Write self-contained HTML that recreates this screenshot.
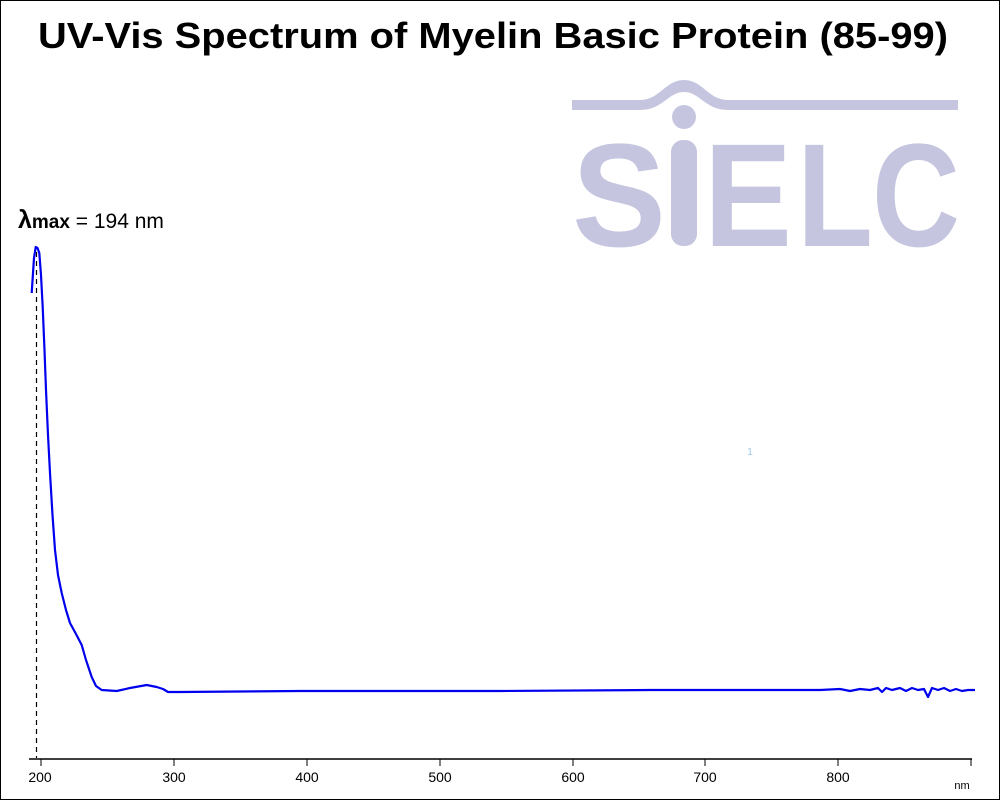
<!DOCTYPE html>
<html><head><style>
body{margin:0;background:#fff}
.w{position:relative;width:998px;height:798px;border:1px solid #000;overflow:hidden;font-family:"Liberation Sans",sans-serif}
</style></head><body><div class="w">
<svg width="998" height="798" viewBox="1 1 998 798" xmlns="http://www.w3.org/2000/svg" style="position:absolute;left:0;top:0">
<text x="493" y="48" text-anchor="middle" font-size="36" font-weight="bold" font-family="Liberation Sans" textLength="910" lengthAdjust="spacingAndGlyphs">UV-Vis Spectrum of Myelin Basic Protein (85-99)</text>
<g fill="#c5c5e0" stroke="none" font-size="147" font-weight="bold" font-family="Liberation Sans">
<path d="M572 100 L640 100 C660 100 665 80 684 80 C703 80 708 100 728 100 L958 100 L958 110 L728 110 C705 110 700 92 684 92 C668 92 663 110 640 110 L572 110 Z"/>
<circle cx="684" cy="117" r="12"/>
<text x="572" y="246" textLength="94" lengthAdjust="spacingAndGlyphs">S</text>
<rect x="671" y="140" width="26" height="106" rx="12"/>
<text x="704" y="246" textLength="88" lengthAdjust="spacingAndGlyphs">E</text>
<text x="797" y="246" textLength="76" lengthAdjust="spacingAndGlyphs">L</text>
<text x="872" y="246" textLength="88" lengthAdjust="spacingAndGlyphs">C</text>
</g>
<text x="18" y="228" font-size="20" font-family="Liberation Sans"><tspan font-weight="bold" font-size="25">λ</tspan><tspan font-weight="bold" font-size="19">max</tspan><tspan font-size="21"> = 194 nm</tspan></text>
<text x="750" y="455" font-size="10" fill="#9cc8f0" text-anchor="middle">1</text>
<line x1="36.5" y1="252" x2="36.5" y2="758" stroke="#000" stroke-dasharray="5,4" stroke-width="1.2"/>
<line x1="29" y1="759" x2="972" y2="759" stroke="#000" stroke-width="1.5"/>
<g stroke="#000" stroke-width="1">
<line x1="41" y1="759" x2="41" y2="766"/><line x1="174" y1="759" x2="174" y2="766"/><line x1="307" y1="759" x2="307" y2="766"/><line x1="440" y1="759" x2="440" y2="766"/><line x1="573" y1="759" x2="573" y2="766"/><line x1="705" y1="759" x2="705" y2="766"/><line x1="838" y1="759" x2="838" y2="766"/><line x1="971" y1="759" x2="971" y2="766"/>
</g>
<g font-size="14" text-anchor="middle" font-family="Liberation Sans">
<text x="40" y="782">200</text><text x="174" y="782">300</text><text x="307" y="782">400</text><text x="440" y="782">500</text><text x="573" y="782">600</text><text x="705" y="782">700</text><text x="838" y="782">800</text><text x="962" y="789" font-size="11">nm</text>
</g>
<path fill="none" stroke="#0000ee" stroke-width="2.2" stroke-linejoin="round" d="M31.7 293 L34 258 L35.7 247 L37.5 248 L39.3 253 L41 275 L42.7 307 L44.5 350 L46 390 L48 435 L50 473 L52.5 515 L55 550 L58 575 L61.7 593 L66 610 L70 623 L76 634 L81.7 645 L86 660 L91.7 677 L96 686 L101.7 690 L116.7 691 L130 688 L146.7 685 L156.7 687 L163 689 L168 692 L180 692 L300 691 L500 691 L650 690 L760 690 L820 690 L840 689 L850 691 L860 689 L870 690 L878 688 L882 692 L886 688 L892 690 L900 688 L906 691 L912 688 L918 690 L924 689 L928 697 L932 688 L938 690 L944 688 L950 691 L956 689 L962 691 L968 690 L975 690"/>
</svg>
</div></body></html>
